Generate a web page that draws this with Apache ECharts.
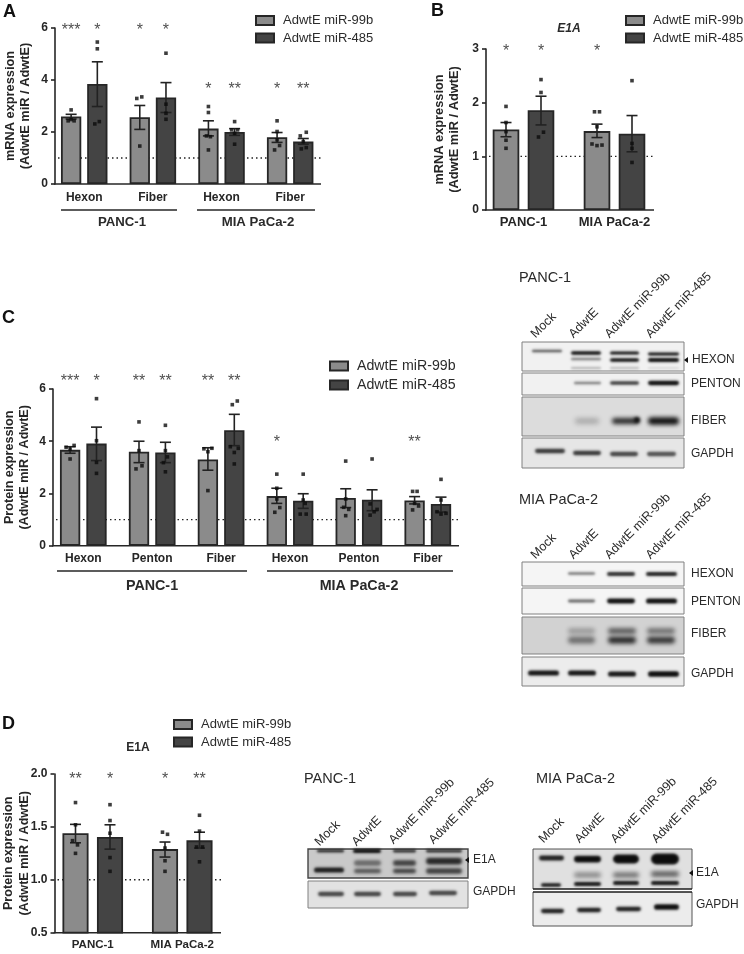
<!DOCTYPE html>
<html><head><meta charset="utf-8">
<style>html,body{margin:0;padding:0;background:#fff}#c{width:744px;height:954px}</style>
<script src="https://cdn.jsdelivr.net/npm/echarts@6/dist/echarts.min.js"></script>
</head><body><div id="c"></div>
<script>
// ---------- DATA ----------
const seriesNames = ['AdwtE miR-99b', 'AdwtE miR-485'];
// Panel A
const aGroups = ['Hexon', 'Fiber', 'Hexon', 'Fiber'];
const aMean99b = [2.6, 2.57, 2.13, 1.8];
const aMean485 = [3.85, 3.33, 2.0, 1.63];
const aErrLow = [2.5, 2.98, 2.1, 2.75, 1.85, 1.87, 1.6, 1.53];
const aErrHigh = [2.68, 4.7, 3.02, 3.9, 2.43, 2.13, 1.98, 1.75];
const aStars = ['***', '*', '*', '*', '*', '**', '*', '**'];
const aStarY = [6, 6, 6, 6, 3.75, 3.75, 3.75, 3.75];
const aDots = [ // [value, horizontal shift]
  [[2.85, 0], [2.43, -3], [2.43, 3], [2.48, 0]],
  [[5.46, 0], [5.2, 0], [2.31, -2.5], [2.4, 2]],
  [[3.29, -3], [3.35, 2], [1.46, 0]],
  [[5.03, 0], [3.07, 0], [2.72, 0], [2.49, 0]],
  [[2.98, 0], [2.75, 0], [1.85, -2], [1.82, 2], [1.31, 0]],
  [[2.4, 0], [2.08, -3], [2.08, 3], [1.95, 0], [1.53, 0]],
  [[2.43, 0], [2.02, 0], [1.7, 0], [1.48, 2.5], [1.31, -2.5]],
  [[1.99, 3], [1.85, -3], [1.63, 0], [1.4, 3], [1.35, -2]]
];
// Panel B
const bGroups = ['PANC-1', 'MIA PaCa-2'];
const bMean99b = [1.5, 1.47];
const bMean485 = [1.86, 1.42];
const bErrLow = [1.365, 1.585, 1.35, 1.085];
const bErrHigh = [1.63, 2.12, 1.6, 1.76];
const bStars = ['*', '*', '*', ''];
const bStarY = [3, 3, 3, 3];
const bDots = [
  [[1.93, 0], [1.63, 0], [1.46, 0], [1.3, 0], [1.15, 0]],
  [[2.43, 0], [2.19, 0], [1.45, 2.5], [1.36, -2.5]],
  [[1.83, -2.5], [1.83, 2.5], [1.55, 0], [1.23, -5], [1.2, 0], [1.21, 5]],
  [[2.41, 0], [1.24, 0], [1.15, 0], [0.886, 0]]
];
// Panel C
const cGroups = ['Hexon', 'Penton', 'Fiber', 'Hexon', 'Penton', 'Fiber'];
const cMean99b = [3.67, 3.6, 3.3, 1.9, 1.83, 1.73];
const cMean485 = [3.91, 3.57, 4.42, 1.72, 1.76, 1.6];
const cErrLow = [3.54, 3.26, 3.18, 3.18, 2.89, 3.83, 1.62, 1.43, 1.46, 1.34, 1.6, 1.29];
const cErrHigh = [3.79, 4.54, 4.0, 3.96, 3.75, 5.03, 2.2, 1.99, 2.18, 2.14, 1.88, 1.86];
const cStars = ['***', '*', '**', '**', '**', '**', '*', '', '', '', '**', ''];
const cStarY = [6.4, 6.4, 6.4, 6.4, 6.4, 6.4, 4.08, 4.08, 4.08, 4.08, 4.08, 4.08];
const cDots = [
  [[3.84, 4], [3.77, -4], [3.7, 0], [3.32, 0]],
  [[5.63, 0], [4.02, 0], [3.19, 0], [2.77, 0]],
  [[4.74, 0], [3.64, 0], [3.06, 3], [2.94, -3]],
  [[4.61, 0], [3.64, 0], [3.4, 2], [3.18, -2], [2.83, 0]],
  [[3.71, -4], [3.73, 4], [3.6, 0], [2.11, 0]],
  [[5.54, 3], [5.4, -2], [3.79, -4], [3.73, 4], [3.57, 0], [3.13, 0]],
  [[2.74, 0], [2.2, 0], [1.79, 0], [1.46, 3], [1.28, -2]],
  [[2.74, 0], [1.75, 0], [1.62, 2], [1.21, -3], [1.21, 3]],
  [[3.24, 0], [1.79, 0], [1.47, -2], [1.39, 3], [1.15, 0]],
  [[3.32, 0], [1.6, -2], [1.39, 5], [1.3, 2], [1.17, -2]],
  [[2.08, -2], [2.08, 2.5], [1.62, 0], [1.52, 4], [1.37, -2]],
  [[2.54, 0], [1.75, 0], [1.3, -4], [1.21, 0], [1.24, 5]]
];
// Panel D
const dGroups = ['PANC-1', 'MIA PaCa-2'];
const dMean99b = [1.44, 1.29];
const dMean485 = [1.405, 1.373];
const dErrLow = [1.35, 1.29, 1.215, 1.3];
const dErrHigh = [1.524, 1.52, 1.357, 1.45];
const dStars = ['**', '*', '*', '**'];
const dStarY = [1.98, 1.98, 1.98, 1.98];
const dDots = [
  [[1.73, 0], [1.52, 0], [1.37, -3], [1.33, 2], [1.25, 0]],
  [[1.71, 0], [1.56, 0], [1.44, 0], [1.21, 0], [1.08, 0]],
  [[1.45, -2.5], [1.43, 2.5], [1.3, 0], [1.18, 0], [1.08, 0]],
  [[1.61, 0], [1.46, 0], [1.31, -3], [1.31, 3], [1.17, 0]]
];
const yTicks = {A: [0, 6, 2], B: [0, 3, 1], C: [0, 6, 2], D: [0.5, 2, 0.5]};

// ---------- LAYOUT ----------
const FONT = '"Liberation Sans", Arial, sans-serif';
const INK = '#262626', LIGHT = '#8b8b8b', DARK = '#444444';
const panels = [
 {key:'A', groups:aGroups, m0:aMean99b, m1:aMean485, lo:aErrLow, hi:aErrHigh, stars:aStars, starY:aStarY, dots:aDots,
  left:49.9, top:28, width:274.6, height:156, axisX:55, axisEnd:321, bw:20.3, step:26.2, label:12, labelMargin:8,
  title:'mRNA expression\n(AdwtE miR / AdwtE)', nameGap:22, nameSize:12.8, legend:[255,14], legendGap:4.5},
 {key:'B', groups:bGroups, m0:bMean99b, m1:bMean485, lo:bErrLow, hi:bErrHigh, stars:bStars, starY:bStarY, dots:bDots,
  left:478, top:49, width:182, height:161, axisX:486, axisEnd:654, bw:26.6, step:35, label:13, labelMargin:6,
  title:'mRNA expression\n(AdwtE miR / AdwtE)', nameGap:24, nameSize:12.8, legend:[625,14], legendGap:4.5},
 {key:'C', groups:cGroups, m0:cMean99b, m1:cMean485, lo:cErrLow, hi:cErrHigh, stars:cStars, starY:cStarY, dots:cDots,
  left:48.85, top:389, width:413.4, height:156.7, axisX:53, axisEnd:459, bw:20.3, step:26.4, label:12, labelMargin:7,
  title:'Protein expression\n(AdwtE miR / AdwtE)', nameGap:21, nameSize:12.6, legend:[329,359], legendGap:5},
 {key:'D', groups:dGroups, m0:dMean99b, m1:dMean485, lo:dErrLow, hi:dErrHigh, stars:dStars, starY:dStarY, dots:dDots,
  left:48, top:774, width:179, height:158.7, axisX:54.5, axisEnd:221, bw:26.1, step:34.5, label:11.5, labelMargin:6,
  title:'Protein expression\n(AdwtE miR / AdwtE)', nameGap:22, nameSize:12.6, legend:[173,718], legendGap:4.5}
];

const grid=[], xAxis=[], yAxis=[], series=[], legend=[], graphic=[];
panels.forEach((p,i)=>{
  const catIdx=i*2, valIdx=i*2+1, band=p.width/p.groups.length, tk=yTicks[p.key];
  grid.push({left:p.left, top:p.top, width:p.width, height:p.height, outerBoundsMode:'none', containLabel:false});
  xAxis.push({type:'category', gridIndex:i, data:p.groups, axisLine:{show:false}, axisTick:{show:false},
    axisLabel:{interval:0, margin:p.labelMargin, fontFamily:FONT, fontWeight:'bold', fontSize:p.label, color:INK}});
  xAxis.push({type:'value', gridIndex:i, min:-0.5, max:p.groups.length-0.5, show:false});
  yAxis.push({type:'value', gridIndex:i, min:tk[0], max:tk[1], interval:tk[2], offset:p.left-p.axisX,
    axisLine:{show:true, onZero:false, lineStyle:{color:INK, width:1.6}}, axisTick:{show:true, length:4, lineStyle:{color:INK, width:1.6}},
    splitLine:{show:false},
    axisLabel:{margin:7, fontFamily:FONT, fontWeight:'bold', fontSize:12, color:INK,
      formatter:v=>p.key==='D'?v.toFixed(1):String(v)},
    name:p.title, nameLocation:'middle', nameRotate:90, nameGap:p.nameGap, nameMoveOverlap:false,
    nameTextStyle:{fontFamily:FONT, fontWeight:'bold', fontSize:p.nameSize, color:INK, lineHeight:p.key==='D'?16:15}});

  // dotted reference at 1, spanning the visible axis only
  const refStart=-0.5+(p.axisX+3-p.left)/band, refEnd=-0.5+(p.axisEnd-p.left)/band;
  series.push({type:'line', name:'ref'+p.key, xAxisIndex:valIdx, yAxisIndex:i, z:1, silent:true, symbol:'none',
    data:[[refStart,1],[refEnd,1]], clip:false,
    lineStyle:{color:'#222', width:1.4, type:[1.5,3]}});
  // bars
  [p.m0,p.m1].forEach((vals,s)=>{
    series.push({type:'bar', name:seriesNames[s], xAxisIndex:catIdx, yAxisIndex:i, data:vals, z:2,
      barWidth:p.bw, barGap:((p.step-p.bw)/p.bw*100)+'%',
      itemStyle:{color:s?DARK:LIGHT, borderColor:INK, borderWidth:1.8}});
  });
  const xOf=(b,shift)=>Math.floor(b/2)+(b%2?1:-1)*(p.step/2)/band+(shift||0)/band;
  // error bars
  series.push({type:'custom', name:'err'+p.key, xAxisIndex:valIdx, yAxisIndex:i, z:3, clip:false,
    data:p.lo.map((l,b)=>[xOf(b),l,p.hi[b]]),
    renderItem:(params,api)=>{
      const a=api.coord([api.value(0),api.value(1)]), c=api.coord([api.value(0),api.value(2)]), w=5.5;
      const st={stroke:'#222',lineWidth:1.6,fill:null};
      return {type:'group',children:[
        {type:'line',shape:{x1:a[0],y1:a[1],x2:a[0],y2:c[1]},style:st},
        {type:'line',shape:{x1:a[0]-w,y1:a[1],x2:a[0]+w,y2:a[1]},style:st},
        {type:'line',shape:{x1:a[0]-w,y1:c[1],x2:a[0]+w,y2:c[1]},style:st}]};
    }});
  // individual points
  const pts=[]; p.dots.forEach((list,b)=>list.forEach(d=>pts.push([xOf(b,d[1]),d[0]])));
  series.push({type:'scatter', name:'pts'+p.key, xAxisIndex:valIdx, yAxisIndex:i, z:4, symbol:'rect', symbolSize:3.6,
    data:pts, clip:false, itemStyle:{color:'#0c0c0c'}});
  // significance stars
  series.push({type:'scatter', name:'sig'+p.key, xAxisIndex:valIdx, yAxisIndex:i, z:5, symbolSize:1, clip:false,
    itemStyle:{color:'rgba(0,0,0,0)'},
    data:p.stars.map((t,b)=>[xOf(b),p.starY[b],t]).filter(d=>d[2]),
    label:{show:true, position:'inside', offset:[0,3], formatter:q=>q.data[2], fontFamily:FONT, fontSize:16, color:'#222'}});
  legend.push({left:p.legend[0], top:p.legend[1], orient:'vertical', itemWidth:18, itemHeight:9, itemGap:p.legendGap,
    data:seriesNames.map(n=>({name:n,icon:'rect'})), selectedMode:false, align:'left', padding:0,
    textStyle:{fontFamily:FONT, fontSize:p.key==='C'?14.2:13, color:'#2b2b2b', padding:[0,0,0,4]}});
  // x baseline
  graphic.push({type:'line', shape:{x1:p.axisX-0.8,y1:p.top+p.height,x2:p.axisEnd,y2:p.top+p.height}, z:10,
    style:{stroke:INK,lineWidth:1.6}});
});

// ---------- ANNOTATIONS ----------
const txt=(t,x,y,o={})=>graphic.push({type:'text',x,y,rotation:o.rot||0,z:20,
  style:{text:t,font:(o.weight||'normal')+' '+(o.style?o.style+' ':'')+(o.size||12)+'px '+FONT,
    fill:o.fill||'#2a2a2a',textAlign:o.align||'left',textVerticalAlign:'middle'}});
const rule=(x1,x2,y)=>graphic.push({type:'line',shape:{x1,y1:y,x2,y2:y},z:10,style:{stroke:INK,lineWidth:1.4}});
[['A',3,12],['B',431,11],['C',2,318],['D',2,724]].forEach(a=>txt(a[0],a[1],a[2],{weight:'bold',size:18,fill:'#111'}));
txt('E1A',569,29,{weight:'bold',style:'italic',size:12,align:'center'});
txt('E1A',138,748,{weight:'bold',size:12,align:'center'});
rule(61,177,210); rule(197,315,210);
txt('PANC-1',122,222,{weight:'bold',size:13.2,align:'center'});
txt('MIA PaCa-2',258,222,{weight:'bold',size:13.2,align:'center'});
rule(57,247,571); rule(267,453,571);
txt('PANC-1',152,586,{weight:'bold',size:14.3,align:'center'});
txt('MIA PaCa-2',359,586,{weight:'bold',size:14.3,align:'center'});

// ---------- WESTERN BLOTS (decorative image-like panels) ----------
const frame=(x1,x2,y1,y2,fill,stroke,lw)=>graphic.push({type:'rect',shape:{x:x1,y:y1,width:x2-x1,height:y2-y1},z:6,
  style:{fill:fill||'#f1f1f1',stroke:stroke||'#808080',lineWidth:lw||1}});
// soft band: only the blurred shadow of an off-page bar lands on the blot
const SHIFT=2000;
const band=(x1,x2,y,h,a,blur)=>{
  const b=blur==null?2.6:blur*0.8, hh=h*1.35;
  graphic.push({type:'rect',shape:{x:x1+1-SHIFT,y:y-hh/2,width:x2-x1-2,height:hh,r:hh/2},z:7,
    style:{fill:'#000',shadowBlur:b,shadowOffsetX:SHIFT,shadowColor:'rgba(12,12,12,'+Math.min(1,a*1.15)+')'}});
};
const arrow=(x,y)=>graphic.push({type:'polygon',shape:{points:[[x,y-3],[x,y+3],[x-4,y]]},z:8,style:{fill:'#111'}});
const lanes=(names,starts)=>names.forEach((n,i)=>txt(n,starts[i][0],starts[i][1],{rot:Math.PI/4,size:12.5}));
const laneNames=['Mock','AdwtE','AdwtE miR-99b','AdwtE miR-485'];
const L=[[531,563],[570,602],[609,640],[647,680]];

// PANC-1 top
txt('PANC-1',519,278,{size:14.5});
lanes(laneNames,[[533,336],[571,336],[607,336],[648,336]]);
frame(522,684,342,371); frame(522,684,373,395); frame(522,684,397,436,'#dcdcdc'); frame(522,684,438,468,'#e6e6e6');
band(L[0][0],L[0][1],351,1.8,.6);
band(L[1][0],L[1][1],353,2.6,1); band(L[1][0],L[1][1],359,1.8,.45); band(L[1][0],L[1][1],368,1.6,.25);
band(L[2][0],L[2][1],353,2.4,.95); band(L[2][0],L[2][1],360,2.6,.95); band(L[2][0],L[2][1],368,1.4,.22);
band(L[3][0],L[3][1],354,2.2,.9); band(L[3][0],L[3][1],360,2.8,1); band(L[3][0],L[3][1],368,1.2,.12);
band(L[1][0]+3,L[1][1],383,1.8,.45); band(L[2][0],L[2][1],383,2.6,.7); band(L[3][0],L[3][1],383,3.2,.9);
band(L[1][0]+4,L[1][1]-2,421,4,.22,6); band(L[2][0]+2,L[2][1],421,4.5,.75,5); band(633,641,420,4.5,.9,4); band(L[3][0],L[3][1],421,5.5,.85,5);
band(L[0][0]+3,L[0][1]+3,451,3.2,.7); band(L[1][0]+2,L[1][1],453,3.2,.7); band(L[2][0],L[2][1]-1,454,3.2,.65); band(L[3][0]-1,L[3][1]-3,454,3.2,.6);
arrow(688,360);
[['HEXON',692,360],['PENTON',691,384],['FIBER',691,421],['GAPDH',691,454]].forEach(t=>txt(t[0],t[1],t[2],{size:12}));

// MIA PaCa-2 top
txt('MIA PaCa-2',519,500,{size:14.5});
lanes(laneNames,[[533,557],[571,557],[607,557],[648,557]]);
frame(522,684,562,586,'#f5f5f5'); frame(522,684,588,614,'#f5f5f5'); frame(522,684,617,654,'#d2d2d2'); frame(522,684,657,686,'#ececec');
band(567,596,573.5,1.8,.5); band(606,636,574,2.8,.75); band(645,678,574,2.8,.8);
band(567,596,601,2.2,.55); band(606,636,601,3.6,1); band(645,678,601,3.8,1);
[[567,596,.25,.45],[607,637,.55,.75],[646,676,.45,.7]].forEach(b=>{band(b[0],b[1],631,4,b[2],5);band(b[0],b[1],640,5,b[3],5);});
band(527,560,673,3.8,.85); band(567,597,673,3.8,.85); band(607,637,674,3.8,.85); band(647,680,674,4.2,.95);
[['HEXON',691,574],['PENTON',691,602],['FIBER',691,634],['GAPDH',691,674]].forEach(t=>txt(t[0],t[1],t[2],{size:12}));

// D PANC-1
txt('PANC-1',304,779,{size:14.5});
lanes(laneNames,[[317,844],[354,844],[391,842],[431,842]]);
frame(308,468,849,878,'#c9c9c9','#444',1.4); frame(308,468,881,908,'#e2e2e2');
band(313,345,870,3.8,.8); band(316,345,851,2,.85);
band(352,382,851,2.8,.95); band(392,417,851,2.2,.75); band(425,463,851,2.2,.75);
band(353,382,863,4,.45,4); band(353,382,871,3.5,.55,4); band(392,417,863,4,.65,4); band(392,417,871,3.5,.65,4);
band(425,463,861,5,.75,4); band(425,463,871,4,.65,4);
band(317,345,894,3.2,.65); band(353,382,894,3.2,.65); band(392,418,894,3.2,.65); band(428,458,893,3.2,.65);
arrow(469,860);
txt('E1A',473,860,{size:12}); txt('GAPDH',473,892,{size:12});

// D MIA PaCa-2
txt('MIA PaCa-2',536,779,{size:14.5});
lanes(laneNames,[[541,841],[577,841],[613,841],[654,841]]);
frame(533,692,849,889,'#e0e0e0','#555',1); frame(533,692,892,926,'#ececec','#555',1);
band(538,565,858,3.6,.8); band(573,602,859,5,.95); band(612,640,859,6.5,1); band(650,680,859,8,1);
band(573,602,875,4,.35,5); band(612,640,875,4,.45,5); band(650,680,874,4,.55,5);
band(540,562,885,2.6,.85); band(573,602,884,2.8,.85); band(612,640,883,2.8,.85); band(650,680,883,2.8,.85);
band(540,565,911,3.2,.8); band(576,602,910,3.2,.8); band(615,642,909,3.2,.8); band(653,680,907,4.2,.95);
graphic.push({type:'line',shape:{x1:533,y1:889,x2:692,y2:889},z:8,style:{stroke:'#000',lineWidth:1}});
graphic.push({type:'line',shape:{x1:533,y1:892,x2:692,y2:892},z:8,style:{stroke:'#000',lineWidth:1}});
arrow(693,873);
txt('E1A',696,873,{size:12}); txt('GAPDH',696,905,{size:12});

const chart=echarts.init(document.getElementById('c'),null,{renderer:'canvas'});
chart.setOption({animation:false, backgroundColor:'#fff', tooltip:{show:false},
  grid, xAxis, yAxis, series, legend, graphic:{elements:graphic}});
</script></body></html>
